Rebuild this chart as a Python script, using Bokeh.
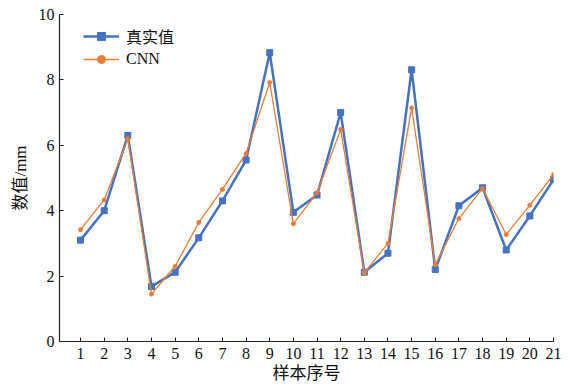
from bokeh.plotting import figure
from bokeh.models import Range1d, FixedTicker, Legend, LegendItem
from bokeh.embed import file_html
from bokeh.resources import INLINE

samples = list(range(1, 22))
real_vals = [3.10, 4.00, 6.30, 1.68, 2.12, 3.17, 4.30, 5.55, 8.83, 3.95, 4.48,
             7.00, 2.12, 2.70, 8.31, 2.20, 4.15, 4.70, 2.80, 3.84, 4.95]
cnn_vals = [3.42, 4.33, 6.20, 1.45, 2.30, 3.64, 4.65, 5.75, 7.92, 3.60, 4.55,
            6.48, 2.10, 3.00, 7.14, 2.35, 3.76, 4.68, 3.27, 4.17, 5.10]
y_ticks = [0, 2, 4, 6, 8, 10]
x_title = "样本序号"
y_title = "数值/mm"
series_names = ["真实值", "CNN"]

FONT = "Liberation Serif, Noto Sans CJK SC"

p = figure(frame_width=494, frame_height=327, output_backend="svg",
           toolbar_location=None, x_range=Range1d(0.11, 21.0),
           y_range=Range1d(0, 10),
           min_border_left=59, min_border_top=14, min_border_right=14,
           min_border_bottom=46)
p.outline_line_color = None
p.grid.visible = False
p.background_fill_color = "white"
p.border_fill_color = "white"

blue = "#4472C4"
orange = "#ED7D31"

l1 = p.line(samples, real_vals, line_color=blue, line_width=2.5)
s1 = p.scatter(samples, real_vals, marker="square", size=6, fill_color=blue, line_color=blue)
l2 = p.line(samples, cnn_vals, line_color=orange, line_width=1.3)
s2 = p.scatter(samples, cnn_vals, marker="circle", size=4, fill_color=orange, line_color=orange)

legend = Legend(items=[LegendItem(label=series_names[0], renderers=[l1, s1]),
                       LegendItem(label=series_names[1], renderers=[l2, s2])],
                location=(24, 272), padding=2, spacing=1, margin=0,
                glyph_width=36, label_standoff=7, label_height=20,
                label_text_font=FONT, label_text_font_size="16px",
                label_text_color="#111111",
                background_fill_alpha=0, border_line_color=None)
p.add_layout(legend)

for ax in (p.xaxis[0], p.yaxis[0]):
    ax.axis_line_color = "#222222"
    ax.axis_line_width = 1.2
    ax.major_tick_line_color = "#222222"
    ax.major_tick_in = 4
    ax.major_tick_out = 0
    ax.minor_tick_line_color = None
    ax.major_label_text_font = FONT
    ax.major_label_text_font_size = "16px"
    ax.major_label_text_color = "#111111"
    ax.axis_label_text_font = FONT
    ax.axis_label_text_font_size = "17px"
    ax.axis_label_text_font_style = "normal"
    ax.axis_label_text_color = "#111111"

p.xaxis.ticker = FixedTicker(ticks=samples)
p.yaxis.ticker = FixedTicker(ticks=y_ticks)
p.xaxis.axis_label = x_title
p.yaxis.axis_label = y_title
p.xaxis.major_label_standoff = 6
p.xaxis.axis_label_standoff = 2
p.yaxis.major_label_standoff = 5
p.yaxis.axis_label_standoff = 6

open("out.html", "w").write(file_html(p, INLINE))
